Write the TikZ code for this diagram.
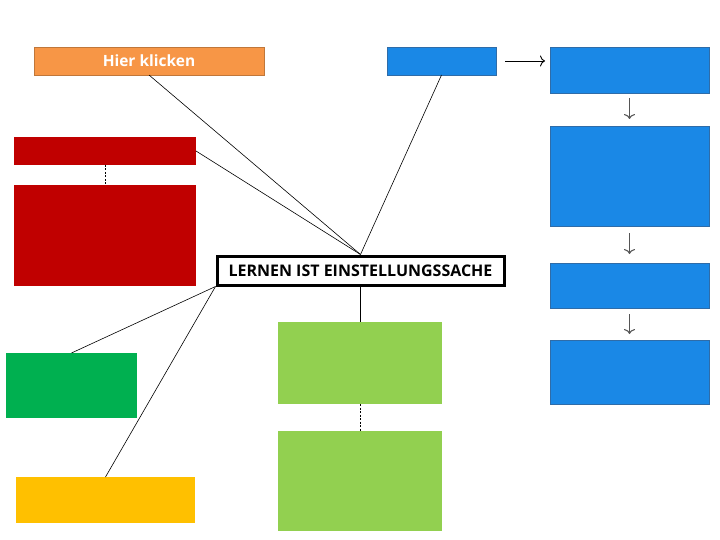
\documentclass[tikz,border=0pt]{standalone}
\usepackage{fontspec}
\setmainfont{Open Sans}
\usetikzlibrary{arrows.meta}
\definecolor{orng}{HTML}{F79646}
\definecolor{orngb}{HTML}{C0773A}
\definecolor{blu}{HTML}{1A88E6}
\definecolor{blub}{HTML}{2F6CA8}
\definecolor{rd}{HTML}{C00000}
\definecolor{dgr}{HTML}{00B050}
\definecolor{ylw}{HTML}{FFC000}
\definecolor{lgr}{HTML}{92D050}
\definecolor{arrg}{HTML}{555555}
\tikzset{
  box/.style={anchor=north west, inner sep=0pt, outer sep=0pt},
  bluebox/.style={box, fill=blu, draw=blub, line width=0.6pt},
  redbox/.style={box, fill=rd},
  lgbox/.style={box, fill=lgr},
  conn/.style={line width=0.6pt, black},
  dconn/.style={line width=0.8pt, black, dash pattern=on 2pt off 1.5pt},
  harrow/.style={line width=0.9pt, -{To[length=5pt,width=11pt]}},
  varrow/.style={line width=1.1pt, arrg, -{To[length=5pt,width=11pt]}},
}
\begin{document}
\begin{tikzpicture}[x=1pt,y=-1pt]
\useasboundingbox (0,0) rectangle (720,540);
% orange
\node[box, fill=orng, draw=orngb, line width=0.6pt, minimum width=230pt, minimum height=28pt] (hier) at (34,47) {};
\node[text=white, font=\bfseries\fontsize{15.5}{18}\selectfont] at (hier.center) {Hier klicken};
% blue small
\node[bluebox, minimum width=109pt, minimum height=28pt] (bs) at (387,47) {};
% blue column
\node[bluebox, minimum width=159pt, minimum height=46pt] (b1) at (550,47) {};
\node[bluebox, minimum width=159pt, minimum height=100pt] (b2) at (550,126) {};
\node[bluebox, minimum width=159pt, minimum height=45pt] (b3) at (550,263) {};
\node[bluebox, minimum width=159pt, minimum height=64pt] (b4) at (550,340) {};
% red
\node[redbox, minimum width=182pt, minimum height=28pt] (r1) at (14,137) {};
\node[redbox, minimum width=182pt, minimum height=101pt] (r2) at (14,185) {};
% title
\node[draw=black, line width=3pt, fill=white, minimum width=287pt, minimum height=29pt, inner sep=0pt, font=\bfseries\fontsize{16}{18}\selectfont] (title) at (360.5,270.5) {LERNEN IST EINSTELLUNGSSACHE};
% green / yellow
\node[box, fill=dgr, minimum width=131pt, minimum height=65pt] (dg) at (6,353) {};
\node[box, fill=ylw, minimum width=179pt, minimum height=46pt] (yl) at (16,477) {};
\node[lgbox, minimum width=164pt, minimum height=82pt] (g1) at (278,322) {};
\node[lgbox, minimum width=164pt, minimum height=100pt] (g2) at (278,431) {};
% connectors
\draw[conn] (hier.south) -- (title.north);
\draw[conn] (r1.east) -- (title.north);
\draw[conn] (bs.south) -- (title.north);
\draw[conn] (title.south west) -- (dg.north);
\draw[conn] (title.south west) -- (yl.north);
\draw[conn] (title.south) -- (title.south |- g1.north);
\draw[dconn] (r1.south) -- (r2.north);
\draw[dconn] (g1.south) -- (g2.north);
\draw[harrow, shorten <=9pt, shorten >=5pt] (bs.east) -- (b1.west |- bs.east);
\draw[varrow, shorten <=5pt, shorten >=7pt] (b1.south) -- (b2.north);
\draw[varrow, shorten <=7pt, shorten >=9pt] (b2.south) -- (b3.north);
\draw[varrow, shorten <=6pt, shorten >=6pt] (b3.south) -- (b4.north);
\end{tikzpicture}
\end{document}
